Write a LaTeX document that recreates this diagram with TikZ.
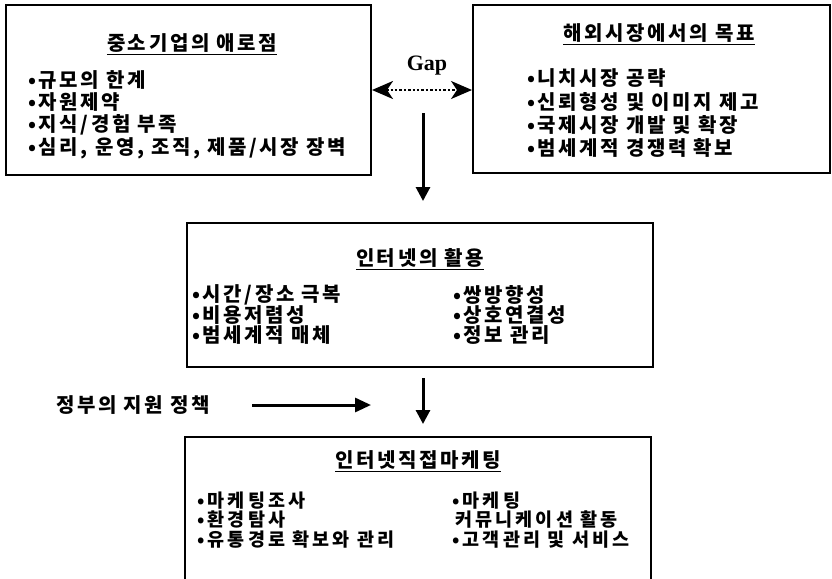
\documentclass[tikz,border=0pt]{standalone}
\usepackage{fontspec}
\newfontfamily\kr[LetterSpace=13]{Noto Sans CJK KR}
\newfontfamily\krb[LetterSpace=17]{Noto Sans CJK KR}
\newfontfamily\gapfont{Liberation Serif}
\usetikzlibrary{arrows.meta}
\begin{document}
\begin{tikzpicture}[x=1pt,y=-1pt,
  box/.style={draw,line width=2pt,inner sep=0pt},
  txt/.style={inner sep=0pt,font=\kr\bfseries\fontsize{20}{23}\selectfont},
  item/.style={txt,anchor=west},
  smallitem/.style={item,font=\krb\bfseries\fontsize{18.5}{21}\selectfont},
  ttl/.style={txt},
  uline/.style={line width=1.6pt},
  varrow/.style={line width=3pt,-{Triangle[length=14pt,width=14pt]}},
  harrow/.style={line width=3pt,-{Triangle[length=16pt,width=14pt]}},
  gaparrow/.style={line width=2.4pt,dotted,{Stealth[length=21pt,width=18pt,inset=6pt]}-{Stealth[length=21pt,width=18pt,inset=6pt]}}]
\useasboundingbox (0,0) rectangle (832,578);
% boxes
\node[box,minimum width=365pt,minimum height=170pt] (b1) at (188.5,90) {};
\node[box,minimum width=357pt,minimum height=168pt] (b2) at (651.5,89) {};
\node[box,minimum width=466pt,minimum height=144pt] (b3) at (420,295) {};
\node[box,minimum width=466pt,minimum height=147pt] (b4) at (418,510.5) {};
% box 1
\node[ttl] (t1) at (192,43) {중소기업의 애로점};
\draw[uline] ([yshift=-2pt]t1.south west) -- ([yshift=-2pt]t1.south east);
\node[item] (i11) at (28,80) {•규모의 한계};
\node[item] (i12) at (28,102) {•자원제약};
\node[item] (i13) at (28,125) {•지식/경험 부족};
\node[item] (i14) at (28,148) {•심리, 운영, 조직, 제품/시장 장벽};
% box 2
\node[ttl] (t2) at (659,33) {해외시장에서의 목표};
\draw[uline] ([yshift=-2pt]t2.south west) -- ([yshift=-2pt]t2.south east);
\node[item] (i21) at (527,78) {•니치시장 공략};
\node[item] (i22) at (527,102) {•신뢰형성 및 이미지 제고};
\node[item] (i23) at (527,125) {•국제시장 개발 및 확장};
\node[item] (i24) at (527,148) {•범세계적 경쟁력 확보};
% gap
\node[font=\gapfont\bfseries\fontsize{22}{24}\selectfont,inner sep=0pt] (gap) at (427,66) {Gap};
\draw[gaparrow] (b1.east) -- (b1.east -| b2.west);
% arrow 1
\coordinate (a1s) at (423,113);
\draw[varrow,shorten >=21pt] (a1s) -- (a1s |- b3.north);
% box 3
\node[ttl] (t3) at (420,258) {인터넷의 활용};
\draw[uline] ([yshift=-2pt]t3.south west) -- ([yshift=-2pt]t3.south east);
\node[item] (i31) at (192,295) {•시간/장소 극복};
\node[item] (i32) at (192,315) {•비용저렴성};
\node[item] (i33) at (192,335) {•범세계적 매체};
\node[item] (i34) at (453,295) {•쌍방향성};
\node[item] (i35) at (453,315) {•상호연결성};
\node[item] (i36) at (453,335) {•정보 관리};
% arrow 2 and government
\coordinate (a2s) at (423,378);
\draw[varrow,shorten >=12pt] (a2s) -- (a2s |- b4.north);
\node[item] (gov) at (56,405) {정부의 지원 정책};
\coordinate (govstart) at (252,405);
\coordinate (govend) at (371,405);
\draw[harrow] (govstart) -- (govend);
% box 4
\node[ttl] (t4) at (418,460) {인터넷직접마케팅};
\draw[uline] ([yshift=-2pt]t4.south west) -- ([yshift=-2pt]t4.south east);
\node[smallitem] (i41) at (197,501) {•마케팅조사};
\node[smallitem] (i42) at (197,520) {•환경탐사};
\node[smallitem] (i43) at (197,540) {•유통경로 확보와 관리};
\node[smallitem] (i44) at (452,501) {•마케팅};
\node[smallitem] (i45) at (455,520) {커뮤니케이션 활동};
\node[smallitem] (i46) at (452,540) {•고객관리 및 서비스};
\end{tikzpicture}
\end{document}
